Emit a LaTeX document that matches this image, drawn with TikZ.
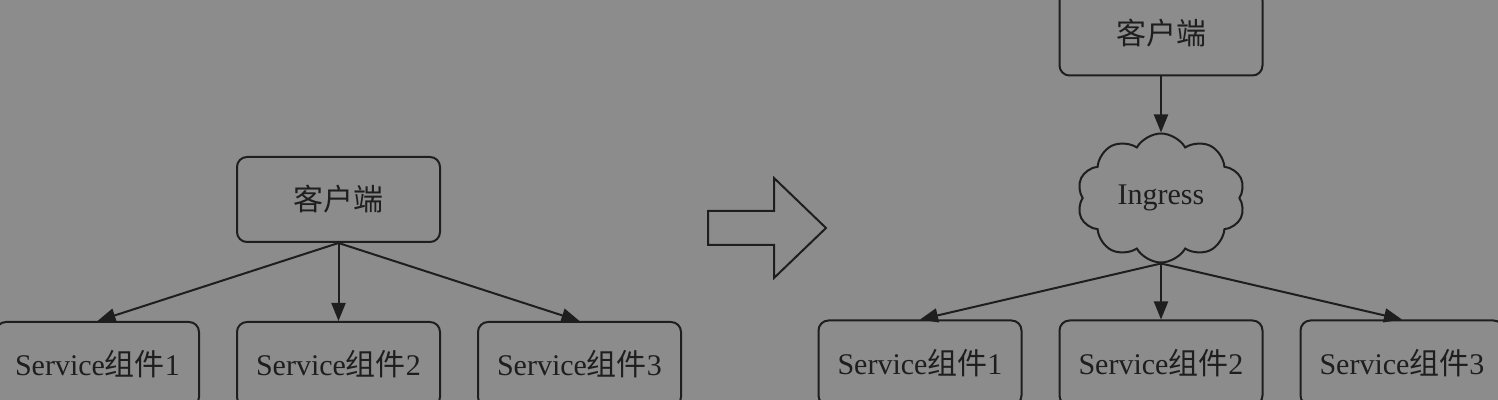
\documentclass[tikz,border=0pt]{standalone}
\usepackage{fontspec}
\setmainfont{Liberation Serif}
\newfontfamily\cjk{Noto Sans CJK SC}
\usetikzlibrary{arrows.meta,shapes.symbols}
\definecolor{bggray}{HTML}{8C8C8C}
\definecolor{inkgray}{HTML}{1E1E1E}
\tikzset{
  box/.style={draw=inkgray, rounded corners=5pt, minimum width=101.5pt, minimum height=42.5pt, inner sep=2pt},
  ingress/.style={cloud, draw=inkgray, cloud puffs=10, cloud puff arc=120, cloud ignores aspect, minimum width=84pt, minimum height=64.5pt, inner sep=0pt}
}
\newcommand{\zujian}{{\cjk 组件}}

\begin{document}
\begin{tikzpicture}[x=0.5pt, y=-0.5pt,
                    level distance=82.5pt,
                    sibling distance=120.5pt,
                    every node/.style={font=\fontsize{15pt}{18pt}\selectfont, text=inkgray},
                    line width=1pt,
                    parent anchor=south, child anchor=north,
                    edge from parent/.style={draw=inkgray, -{Triangle[length=9pt,width=7pt]}}
                  ]
  \fill[bggray] (0,0) rectangle (1498,400);
  \useasboundingbox (0,0) rectangle (1498,400);

  % before
  \node[box] (client) at (338.5,199.5) {\cjk 客户端}
  child {node[box] (svcA) {Service\zujian 1}}
  child {node[box] (svcB) {Service\zujian 2}}
  child {node[box] (svcC) {Service\zujian 3}};

  % hollow arrow
  \draw[inkgray] (708,211) -- (774,211) -- (774,178) -- (826,228)
    -- (774,278) -- (774,245) -- (708,245) -- cycle;

  % after
  \node[box] (clientB) at (1161,33) {\cjk 客户端}
  child {node[ingress] (gw) {Ingress}
      child {node[box] (svcD) {Service\zujian 1}}
      child {node[box] (svcE) {Service\zujian 2}}
      child {node[box] (svcF) {Service\zujian 3}}
    };
\end{tikzpicture}
\end{document}
